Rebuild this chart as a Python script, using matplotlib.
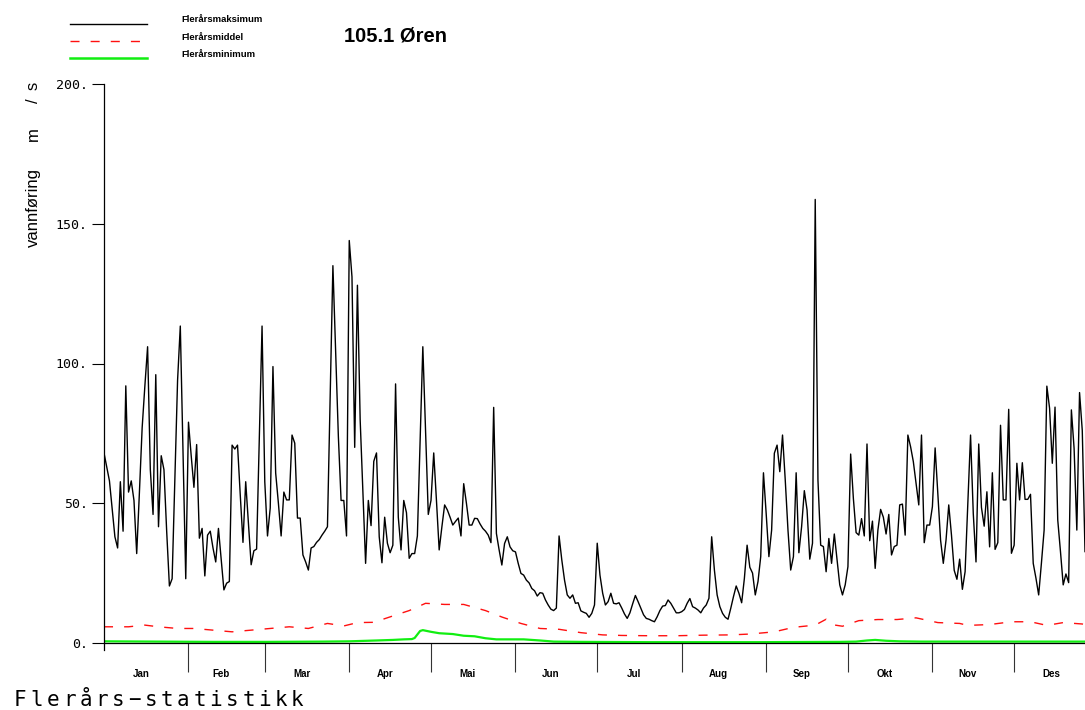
import numpy as np
import matplotlib
matplotlib.use("Agg")
import matplotlib.pyplot as plt
from matplotlib.lines import Line2D

# Flerårsmaksimum, one value per day from 1 Jan (the figure cuts it off after ~day 360)
max_vals = [
    68, 63, 58, 48, 38, 34, 57.7, 40, 92, 54, 58, 51, 32, 54, 77, 92, 106, 62, 46, 96,
    41.6, 67, 62, 40, 20.4, 23, 58, 94, 113.4, 68, 23, 79, 67, 55.7, 71, 37.5, 41, 24, 38.6, 40,
    34, 29, 41, 30, 19, 21.4, 22, 70.8, 69.4, 70.8, 53, 36, 57.7, 43, 28, 33, 33.6, 73, 113.4, 57.7,
    38.3, 48.3, 98.9, 60.8, 50, 38.3, 54, 51.2, 51.2, 74.4, 71.5, 44.7, 44.7, 31.5, 29, 26.1, 34, 34.5, 36, 37,
    38.6, 40, 41.6, 88, 135, 104, 74, 51, 51, 38.3, 144, 131, 70, 128, 80, 54, 28.5, 51, 42, 65,
    68, 38, 28.7, 45, 35.7, 32.3, 35, 92.7, 45, 33.3, 51, 46.6, 30.3, 32, 32, 38.3, 72, 106, 76, 46,
    51, 68, 51, 33.3, 41.6, 49.4, 47.6, 45, 42.2, 43.5, 44.7, 38.3, 57, 50, 42.2, 42.2, 44.6, 44.5, 42.6, 41,
    40, 38.6, 35.9, 84.3, 39.2, 33.3, 27.9, 35.6, 38, 34.4, 33, 32.6, 28.5, 24.9, 24.3, 22.5, 21.5, 19.5, 18.7, 16.8,
    18, 17.8, 15.4, 13.6, 12.1, 11.6, 12.5, 38.3, 29.7, 22.5, 17.2, 16, 17.2, 14.2, 14.4, 11.5, 11, 10.6, 9.2, 10.6,
    13.6, 35.7, 24.3, 17.8, 13.6, 14.8, 17.8, 14.2, 14, 14.4, 12.5, 10.4, 8.8, 10.8, 14, 17, 14.8, 12.5, 10.1, 8.8,
    8.5, 8, 7.6, 9.4, 11.6, 13.2, 13.4, 15.4, 14.2, 12.5, 10.8, 10.8, 11.2, 12, 14.2, 15.9, 13, 12.5, 11.8, 10.8,
    12.5, 13.6, 16, 38, 26.1, 17.2, 13, 10.6, 9.2, 8.5, 12.4, 16.6, 20.4, 17.8, 14.4, 23.1, 35, 27.1, 25, 17.2,
    22, 30.9, 60.9, 46.3, 30.9, 40.4, 67.9, 70.8, 61.3, 74.4, 58.3, 40.4, 26.1, 30.9, 60.9, 32.3, 41.6, 54.5, 47.6, 30,
    35.7, 158.7, 58.3, 35, 34.5, 25.5, 37.4, 28.5, 39, 30, 20.8, 17.2, 20.8, 27.3, 67.6, 51.7, 39.5, 38.6, 44.5, 38.3,
    71.2, 36.6, 43.6, 26.7, 40.4, 47.8, 45, 39, 46, 31.5, 34.5, 35, 49.4, 49.7, 38.6, 74.4, 70.2, 64.9, 57.1, 49.4,
    74.4, 35.9, 42.2, 42.2, 48.8, 69.8, 53.5, 36.8, 28.5, 36.8, 49.4, 38.6, 26, 22.8, 30, 19.2, 25.5, 50, 74.4, 46.3,
    29, 71.2, 48.5, 41.8, 54.1, 34.4, 60.9, 33.5, 35.9, 77.9, 51.2, 51.2, 83.6, 32.1, 35, 64.3, 51.2, 64.5, 51.4, 51.4,
    53.2, 28.5, 23.2, 17.2, 28.5, 40.4, 91.9, 84, 64.3, 84.4, 44, 32.7, 20.8, 24.7, 21.6, 83.4, 69.6, 40.4, 89.6, 76,
    32.7,
]

# Flerårsmiddel (read at the dash positions)
mean_days = [0, 2, 9, 15, 20, 27, 33, 40, 47, 54, 61, 68, 75, 82, 88, 93, 99, 107, 112, 118,
             125, 132, 140, 146, 153, 160, 167, 175, 183, 190, 200, 210, 220, 230, 237, 246, 253, 261, 265, 267,
             271, 277, 284, 291, 298, 306, 314, 317, 325, 333, 340, 346, 352, 359, 360]
mean_vals = [5.8, 5.8, 5.8, 6.4, 5.8, 5.2, 5.2, 4.6, 4.0, 4.6, 5.2, 5.8, 5.2, 7.0, 6.1, 7.3, 7.4, 10.0, 11.6, 14.2,
             13.8, 13.8, 11.6, 9.3, 7.0, 5.2, 4.9, 3.7, 2.9, 2.7, 2.6, 2.6, 2.8, 2.9, 3.2, 4.0, 5.6, 6.4, 8.5, 6.6,
             6.0, 8.0, 8.4, 8.4, 9.0, 7.3, 7.0, 6.3, 6.6, 7.6, 7.6, 6.3, 7.3, 6.8, 6.5]

# Flerårsminimum
min_days = [0, 20, 40, 60, 80, 90, 100, 106, 110, 113, 114, 116, 117, 120, 123, 128, 132, 136, 140, 144,
            154, 160, 165, 175, 200, 240, 270, 276, 280, 283, 287, 292, 300, 330, 360]
min_vals = [0.6, 0.5, 0.4, 0.4, 0.5, 0.6, 0.9, 1.1, 1.3, 1.4, 1.8, 4.3, 4.6, 4.0, 3.5, 3.2, 2.6, 2.4, 1.7, 1.3,
            1.3, 0.9, 0.5, 0.4, 0.3, 0.3, 0.4, 0.5, 0.9, 1.1, 0.8, 0.6, 0.5, 0.5, 0.5]

month_names = ["Jan", "Feb", "Mar", "Apr", "Mai", "Jun", "Jul", "Aug", "Sep", "Okt", "Nov", "Des"]
month_len = [31, 28, 31, 30, 31, 30, 31, 31, 30, 31, 30, 31]
y_ticks = [0, 50, 100, 150, 200]
y_ticklabels = ["0.", "50.", "100.", "150.", "200."]

W, H = 1085, 710
RED = "#ff1010"
GREEN = "#11ee11"
SANS = "Liberation Sans"

fig = plt.figure(figsize=(W / 100, H / 100), dpi=100)
ax = fig.add_axes([104 / W, 1 - 643 / H, 1 - 104 / W, (643 - 84) / H])

ax.plot(np.arange(len(max_vals)), max_vals, color="black", lw=1.0)
ax.plot(mean_days, mean_vals, color=RED, lw=1.0, dashes=(6.5, 8))
ax.plot(min_days, min_vals, color=GREEN, lw=1.6)

# the original axis runs a few days past the right edge of the picture
ax.set_xlim(0, (1085 - 104) / 2.725)
ax.set_ylim(0, 200)

for s in ["top", "right"]:
    ax.spines[s].set_visible(False)
ax.spines["left"].set_bounds(-2.5, 200)
ax.spines["left"].set_linewidth(0.9)
ax.spines["bottom"].set_linewidth(0.9)

starts = np.cumsum([0] + month_len[:-1])
ax.set_xticks(starts[1:])
ax.tick_params(axis="x", length=21, width=0.8, color="#333333", labelbottom=False)
for name, st, ln in zip(month_names, starts, month_len):
    ax.text(st + ln / 2 - 2, -(674 - 643) / 559, name, transform=ax.get_xaxis_transform(),
            ha="center", va="center", fontsize=7, fontweight="bold", family=SANS)

ax.set_yticks(y_ticks)
ax.set_yticklabels(y_ticklabels, family="DejaVu Sans Mono", fontsize=9.5)
ax.tick_params(axis="y", length=8.6, width=0.8, pad=3)

# y label in pieces (the superscript 3 is missing in the original)
ylab = [("vannføring", 168, "top"), ("m", 134, "center"), ("/", 101, "center"), ("s", 86, "center")]
for txt, yy, al in ylab:
    fig.text(33 / W, 1 - yy / H, txt, rotation=90, ha="center", va=al,
             fontsize=12, family=SANS)

fig.text(395 / W, 1 - 36 / H, "105.1 Øren", ha="center", va="center", fontsize=14.5,
         fontweight="bold", family=SANS)

legend = [("Flerårsmaksimum", "black", "-", 1.0, 24, 19),
          ("Flerårsmiddel", RED, "--", 1.0, 41, 37),
          ("Flerårsminimum", GREEN, "-", 1.8, 58, 54.5)]
for label, col, ls, lw, yy, ty in legend:
    ln = Line2D([70 / W, 147 / W], [1 - yy / H, 1 - yy / H], color=col, lw=lw,
                transform=fig.transFigure)
    if ls == "--":
        ln.set_dashes((6.5, 8))
    fig.add_artist(ln)
    fig.text(181 / W, 1 - ty / H, label, ha="left", va="center", fontsize=6.8,
             fontweight="bold", family=SANS)

footer = "Flerårs−statistikk"
for i, ch in enumerate(footer):
    fig.text((14 + i * 16.3) / W, 1 - 700 / H, ch, ha="left", va="center", fontsize=15,
             family="DejaVu Sans Mono")

fig.savefig("out.png", dpi=100)
